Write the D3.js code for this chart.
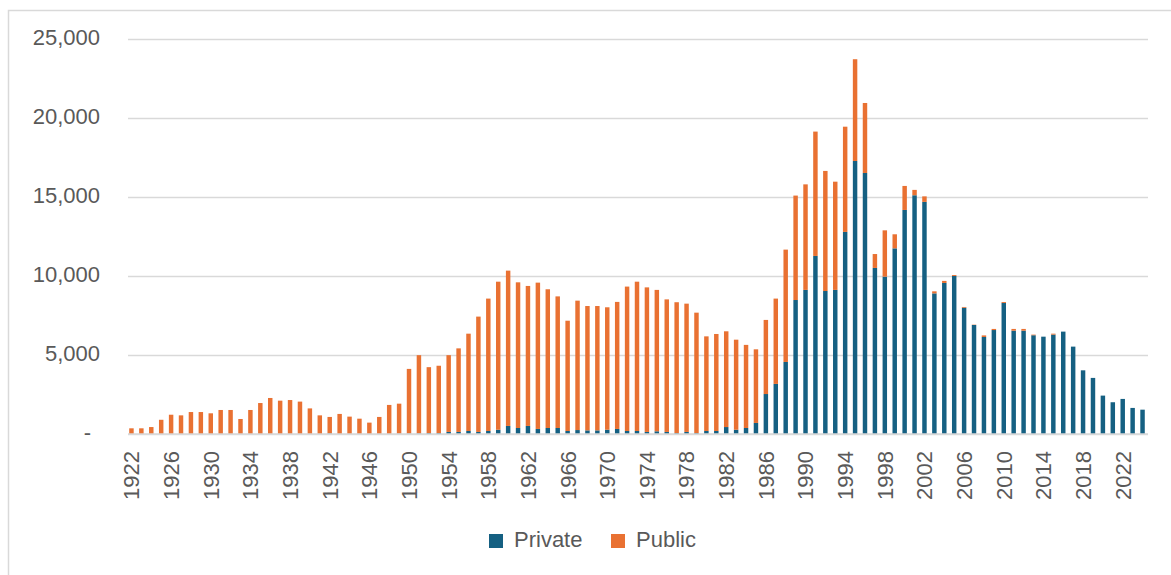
<!DOCTYPE html>
<html>
<head>
<meta charset="utf-8">
<script src="https://cdn.jsdelivr.net/npm/d3@7"></script>
<style>
	html, body { margin: 0; padding: 0; background: #fff; }
	svg text { font-family: "Liberation Sans", Arial, sans-serif; fill: #595959; }
</style>
</head>
<body>
<svg id="d_svg" width="1171" height="575"></svg>
<script>
/*private / public stacked bars*/
var years = d3.range(1922, 2025);
var privateVals = [
	0, 0, 0, 0, 0, 0, 0, 0, 0, 0,
	0, 0, 0, 0, 0, 0, 0, 0, 0, 0,
	40, 0, 0, 0, 0, 0, 0, 20, 30, 40,
	60, 60, 130, 130, 190, 130, 190, 270, 510, 380,
	510, 320, 380, 380, 190, 250, 230, 230, 270, 320,
	190, 190, 130, 170, 130, 60, 130, 60, 190, 190,
	440, 270, 380, 700, 2530, 3170, 4560, 8480, 9120, 11270,
	9050, 9120, 12790, 17280, 16520, 10510, 9960, 11750, 14180, 15110,
	14690, 8900, 9560, 10000, 7990, 6900, 6140, 6580, 8290, 6540,
	6540, 6250, 6160, 6290, 6480, 5530, 4030, 3550, 2430, 2010,
	2220, 1650, 1540
];
var publicVals = [
	360, 360, 440, 900, 1220, 1180, 1390, 1390, 1310, 1520,
	1520, 950, 1520, 1960, 2280, 2110, 2150, 2050, 1620, 1180,
	1040, 1270, 1100, 970, 720, 1080, 1840, 1900, 4090, 4950,
	4170, 4260, 4860, 5290, 6160, 7300, 8380, 9370, 9830, 9220,
	8860, 9260, 8780, 8330, 6980, 8190, 7870, 7870, 7750, 8040,
	9140, 9450, 9150, 8950, 8390, 8280, 8120, 7620, 5990, 6140,
	6060, 5700, 5260, 4660, 4690, 5400, 7110, 6610, 6680, 7870,
	7600, 6850, 6660, 6440, 4430, 880, 2930, 890, 1520, 340,
	350, 130, 130, 60, 50, 20, 100, 70, 60, 110,
	110, 40, 0, 60, 0, 0, 0, 0, 0, 0,
	0, 0, 0
];
var seriesNames = ["Private", "Public"];
var seriesColors = ["#156082", "#E97132"];
var yTicks = [0, 5000, 10000, 15000, 20000, 25000];
var xTicks = d3.range(1922, 2025, 4);

var rows = years.map(function(y, i){
	return {"year": y, "Private": privateVals[i], "Public": publicVals[i]};
});

var svg = d3.select('#d_svg');

// chart border (right/bottom fall outside the picture)
svg.append('rect')
	.attr('x', 8.5)
	.attr('y', 10.5)
	.attr('width', 1200)
	.attr('height', 600)
	.attr('fill', 'none')
	.attr('stroke', '#d9d9d9')
	.attr('stroke-width', 1.5);

var x = d3.scaleBand()
	.domain(years)
	.range([126.5, 1147.5])
	.paddingInner(0.55)
	.paddingOuter(0.275);
var y = d3.scaleLinear()
	.domain([0, 25000])
	.range([434, 39]);

// y axis + gridlines
var yAxisG = svg.append('g')
	.attr('class', 'y_axis')
	.attr('transform', 'translate(128,0)')
	.call(d3.axisLeft(y)
		.tickValues(yTicks)
		.tickSize(-(1148 - 128))
		.tickPadding(28)
		.tickFormat(function(d){ return d === 0 ? '-' : d3.format(',')(d); }));
yAxisG.select('.domain').remove();
yAxisG.selectAll('line')
	.attr('stroke', '#d9d9d9')
	.attr('stroke-width', 1.3);
yAxisG.selectAll('text')
	.attr('font-size', '22px')
	.attr('dy', '0.24em')
	.attr('x', function(d){ return d === 0 ? -37 : -28; });

// stacked bars
var stack = d3.stack().keys(seriesNames);
var layers = stack(rows);
var layerG = svg.append('g')
	.attr('class', 'd_bars')
	.selectAll('g')
	.data(layers)
	.enter()
	.append('g')
	.attr('fill', function(d, i){ return seriesColors[i]; });
layerG.selectAll('rect')
	.data(function(d){ return d; })
	.enter()
	.append('rect')
	.attr('x', function(d){ return x(d.data.year); })
	.attr('y', function(d){ return y(d[1]); })
	.attr('width', x.bandwidth())
	.attr('height', function(d){ return y(d[0]) - y(d[1]); });

// baseline
svg.append('line')
	.attr('x1', 128)
	.attr('x2', 1148)
	.attr('y1', y(0))
	.attr('y2', y(0))
	.attr('stroke', '#d9d9d9')
	.attr('stroke-width', 1.6);

// x axis labels
var xAxisG = svg.append('g')
	.attr('class', 'x_axis')
	.attr('transform', 'translate(0,' + y(0) + ')')
	.call(d3.axisBottom(x)
		.tickValues(xTicks)
		.tickSize(0)
		.tickFormat(d3.format('d')));
xAxisG.select('.domain').remove();
xAxisG.selectAll('text')
	.attr('font-size', '22px')
	.attr('transform', 'rotate(-90)')
	.attr('x', -17)
	.attr('y', 0)
	.attr('dy', '0.36em')
	.style('text-anchor', 'end');

// legend
var legendPos = [489, 611];
var legend = svg.append('g')
	.attr('class', 'd_legend')
	.selectAll('g')
	.data(seriesNames)
	.enter()
	.append('g')
	.attr('transform', function(d, i){ return 'translate(' + legendPos[i] + ',534)'; });
legend.append('rect')
	.attr('width', 14)
	.attr('height', 14)
	.attr('fill', function(d, i){ return seriesColors[i]; });
legend.append('text')
	.attr('x', 25)
	.attr('y', 13)
	.attr('font-size', '22px')
	.text(function(d){ return d; });
</script>
</body>
</html>
